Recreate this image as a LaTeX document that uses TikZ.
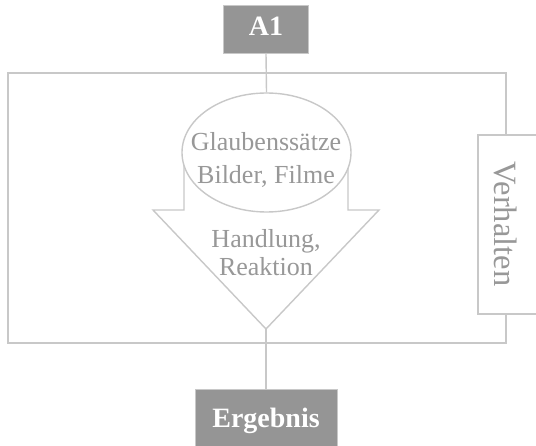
\documentclass[tikz,border=0pt]{standalone}
\usepackage{fontspec}
\setmainfont{Liberation Serif}
\usetikzlibrary{shapes.geometric}
\definecolor{linegrey}{HTML}{C8C8C8}
\definecolor{textgrey}{HTML}{989898}
\definecolor{boxgrey}{HTML}{959595}
\tikzset{
  lbl/.style={text=textgrey, font=\fontsize{26}{30}\selectfont, inner sep=0pt, anchor=base},
  darkbox/.style={fill=boxgrey, draw=linegrey, line width=0.8pt},
  boxlbl/.style={text=white, font=\fontsize{28}{31}\selectfont\bfseries, inner sep=0pt, anchor=base},
  conn/.style={draw=linegrey, line width=1.4pt},
}
\begin{document}
\begin{tikzpicture}[x=1pt,y=-1pt]
\useasboundingbox (0,0) rectangle (536,446);
% outer frame
\draw[conn] (8,73) rectangle (506,343);
% Verhalten box
\draw[conn, fill=white] (478,135) rectangle (545,314);
\node[lbl, anchor=center, rotate=-90, font=\fontsize{32.5}{35}\selectfont] (verh) at (506,224) {Verhalten};
% boxes
\draw[darkbox] (223,5) rectangle (308,53);
\coordinate (a1b) at (266,53);
\node[boxlbl] (a1) at (266,36) {A1};
\draw[darkbox] (195,389) rectangle (337,450);
\coordinate (ergt) at (266,389);
\node[boxlbl] (erg) at (266,428) {Ergebnis};
% arrow
\coordinate (tip) at (266,329);
\draw[conn, fill=white, line join=miter] (184,150) -- (184,210) -- (153,210) -- (tip) -- (379,210) -- (348,210) -- (348,150);
\node[conn, fill=white, ellipse, minimum width=169pt, minimum height=119pt, inner sep=0pt] (ell) at (266.5,152.5) {};
% connectors
\draw[conn] (a1b) -- (ell.north);
\draw[conn] (tip) -- (ergt);
% texts
\node[lbl] (t1) at (266,151) {Glaubenssätze};
\node[lbl] (t2) at (266,184) {Bilder, Filme};
\node[lbl] (t3) at (266,248) {Handlung,};
\node[lbl] (t4) at (266,276) {Reaktion};
\end{tikzpicture}
\end{document}
